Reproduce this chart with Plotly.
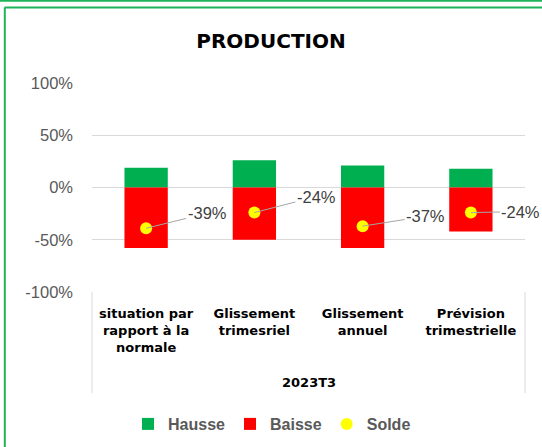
import plotly.graph_objects as go

categories = ["situation par<br>rapport à la<br>normale", "Glissement<br>trimesriel",
              "Glissement<br>annuel", "Prévision<br>trimestrielle"]
hausse = [19, 26, 21, 18]
baisse = [-58, -50, -58, -42]
solde = [-39, -24, -37, -24]
group_label = "2023T3"
y_tickvals = [-100, -50, 0, 50, 100]
y_ticktext = ["-100%", "-50%", "0%", "50%", "100%"]
label_offsets = [(61, -15), (62, -16), (63, -10), (50, -1)]

W, H = 542, 447
L, R, T, B = 92, 17, 83, 155
pw, ph = W - L - R, H - T - B
def px(x): return (x - L) / pw
def py(y): return (H - B - y) / ph

GREEN_FRAME = "#1DB45A"
CAT_FONT = dict(family="DejaVu Sans", size=13, color="black")

fig = go.Figure()
fig.add_trace(go.Bar(x=categories, y=hausse, name="Hausse", marker=dict(color="#00B050", line=dict(width=0))))
fig.add_trace(go.Bar(x=categories, y=baisse, name="Baisse", marker=dict(color="#FF0000", line=dict(width=0))))
fig.add_trace(go.Scatter(x=categories, y=solde, name="Solde", mode="markers",
                         marker=dict(color="#FFFF00", size=12, line=dict(width=0))))

for c, v, (dx, dy) in zip(categories, solde, label_offsets):
    fig.add_annotation(x=c, y=v, text=f"{v}%", showarrow=True, arrowhead=0, arrowwidth=1,
                       arrowcolor="#A6A6A6", ax=dx, ay=dy, standoff=0,
                       font=dict(family="Liberation Sans", size=16.5, color="#404040"))

fig.add_annotation(x=0.5, y=py(382), xref="paper", yref="paper", text=f"<b>{group_label}</b>",
                   showarrow=False, font=CAT_FONT, yanchor="middle")

# category box lines
for xx in (0, 1):
    fig.add_shape(type="line", xref="paper", yref="paper", x0=xx, x1=xx, y0=0, y1=py(393),
                  line=dict(color="#D9D9D9", width=1))

# green frame
fig.add_shape(type="line", xref="paper", yref="paper", x0=px(0), x1=px(W), y0=py(0.8), y1=py(0.8),
              line=dict(color=GREEN_FRAME, width=2))
fig.add_shape(type="line", xref="paper", yref="paper", x0=px(4.5), x1=px(W), y0=py(7.5), y1=py(7.5),
              line=dict(color=GREEN_FRAME, width=2))
fig.add_shape(type="line", xref="paper", yref="paper", x0=px(4.8), x1=px(4.8), y0=py(7.5), y1=py(H),
              line=dict(color=GREEN_FRAME, width=2))

fig.update_layout(
    width=W, height=H, margin=dict(l=L, r=R, t=T, b=B),
    paper_bgcolor="white", plot_bgcolor="white",
    barmode="relative", bargap=0.6,
    title=dict(text="<b>PRODUCTION</b>", x=0.5, xref="container", xanchor="center",
               y=1 - 41 / H, yref="container", yanchor="middle",
               font=dict(family="DejaVu Sans", size=20, color="black")),
    showlegend=True,
    legend=dict(orientation="h", xref="container", yref="container", x=272 / W, xanchor="center",
                y=1 - 424 / H, yanchor="middle",
                font=dict(family="Liberation Sans", size=16, color="#595959", weight="bold"),
                itemwidth=30, traceorder="normal"),
    hovermode=False,
)
fig.update_yaxes(range=[-100, 100], tickvals=y_tickvals, ticktext=y_ticktext,
                 showgrid=True, gridcolor="#D9D9D9", gridwidth=1, zeroline=True, zerolinecolor="#D9D9D9",
                 zerolinewidth=1, showline=False, ticks="", ticklabelstandoff=18,
                 tickfont=dict(family="Liberation Sans", size=16.5, color="#595959"), fixedrange=True)
fig.update_xaxes(range=[-0.5, len(categories) - 0.5], autorange=False,
                 showgrid=False, showline=False, ticks="", ticklabelstandoff=12,
                 tickvals=categories, ticktext=[f"<b>{c}</b>" for c in categories],
                 tickfont=CAT_FONT, tickangle=0, fixedrange=True)

fig.write_html("out.html", config={"displayModeBar": False},
               post_script="document.body.style.margin='0px';document.body.style.overflow='hidden';")
